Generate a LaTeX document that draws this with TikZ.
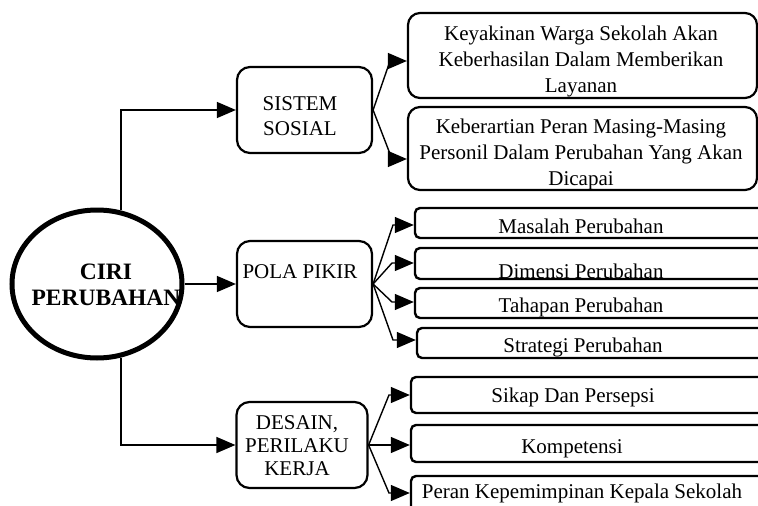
\documentclass[tikz,border=0pt]{standalone}
\usepackage{fontspec}
\setmainfont{Liberation Serif}
\usetikzlibrary{shapes.geometric,arrows.meta}
\tikzset{
  bigbox/.style={draw,line width=2.2pt,rounded corners=13pt,inner sep=0pt},
  thinbox/.style={draw,line width=2.4pt,rounded corners=5pt,inner sep=0pt},
  arr/.style={line width=1.4pt,-{Triangle[length=19pt,width=16pt]}},
  lbl/.style={inner sep=0pt,align=center,font=\fontsize{21}{25}\selectfont},
  bl/.style={inner sep=0pt,anchor=base,font=\fontsize{21}{25}\selectfont}
}
\begin{document}
\begin{tikzpicture}[x=1pt,y=-1pt]
\useasboundingbox (0,0) rectangle (758,506);
\clip (0,0) rectangle (758,506);
% central ellipse
\node[ellipse,draw,line width=5pt,minimum width=170pt,minimum height=148pt,inner sep=0pt] (ciri) at (97,284) {};
\node[inner sep=0pt,align=center,font=\fontsize{23.5}{26}\selectfont\bfseries] (cirit) at (106,285) {CIRI\\PERUBAHAN};
% second level
\node[bigbox,minimum width=135pt,minimum height=86pt] (sis) at (304.5,110) {};
\node[lbl] (sist) at (300,116) {SISTEM\\SOSIAL};
\node[bigbox,minimum width=135pt,minimum height=86pt] (pola) at (304.5,284) {};
\node[lbl] (polat) at (300,272) {POLA PIKIR};
\node[bigbox,minimum width=131pt,minimum height=86pt] (des) at (302,445) {};
\node[lbl,font=\fontsize{21}{23}\selectfont] (dest) at (297,446) {DESAIN,\\PERILAKU\\KERJA};
% top right boxes
\node[bigbox,rounded corners=12pt,minimum width=349pt,minimum height=85pt] (k1) at (582.5,55.5) {};
\node[lbl,font=\fontsize{21}{26}\selectfont] (k1t) at (581,61) {Keyakinan Warga Sekolah Akan\\Keberhasilan Dalam Memberikan\\Layanan};
\node[bigbox,rounded corners=12pt,minimum width=349pt,minimum height=83pt] (k2) at (582.5,148.5) {};
\node[lbl,font=\fontsize{21}{26}\selectfont] (k2t) at (581,154) {Keberartian Peran Masing-Masing\\Personil Dalam Perubahan Yang Akan\\Dicapai};
% pola pikir boxes
\node[thinbox,minimum width=385pt,minimum height=30pt] (m1) at (607.5,223) {};
\node[bl] (m1t) at (581,233) {Masalah Perubahan};
\node[thinbox,minimum width=385pt,minimum height=31pt] (m2) at (607.5,263.5) {};
\node[bl] (m2t) at (581,278) {Dimensi Perubahan};
\node[thinbox,minimum width=385pt,minimum height=30pt] (m3) at (607.5,303) {};
\node[bl] (m3t) at (581,312) {Tahapan Perubahan};
\node[thinbox,minimum width=383pt,minimum height=30pt] (m4) at (608.5,343) {};
\node[bl] (m4t) at (583,352) {Strategi Perubahan};
% desain boxes
\node[thinbox,minimum width=389pt,minimum height=36pt] (s1) at (605.5,395) {};
\node[bl] (s1t) at (573,402) {Sikap Dan Persepsi};
\node[thinbox,minimum width=389pt,minimum height=37pt] (s2) at (605.5,443.5) {};
\node[bl] (s2t) at (572,453) {Kompetensi};
\node[thinbox,minimum width=389pt,minimum height=60pt] (s3) at (605.5,506) {};
\node[bl] (s3t) at (582,498) {Peran Kepemimpinan Kepala Sekolah};
% connectors from ellipse
\draw[arr] (ciri.72) |- (sis.west);
\draw[arr] (ciri.east) -- (pola.west);
\draw[arr] (ciri.-72) |- (des.west);
% sistem sosial fan
\coordinate (a1) at (390,61);
\coordinate (a2) at (392,159);
\draw[arr] (sis.east) -- (a1) -- (a1 -| k1.west);
\draw[arr] (sis.east) -- (a2) -- (a2 -| k2.west);
% pola pikir fan
\coordinate (b1) at (393,225);
\coordinate (b2) at (392,263);
\coordinate (b3) at (392,302);
\coordinate (b4) at (393,340);
\draw[arr] (pola.east) -- (b1) -- (b1 -| m1.west);
\draw[arr] (pola.east) -- (b2) -- (b2 -| m2.west);
\draw[arr] (pola.east) -- (b3) -- (b3 -| m3.west);
\draw[arr] (pola.east) -- (b4) -- (b4 -| m4.west);
% desain fan
\coordinate (c1) at (389,395);
\coordinate (c3) at (389,493);
\draw[arr] (des.east) -- (c1) -- (c1 -| s1.west);
\draw[arr] (des.east) -- (des.east -| s2.west);
\draw[arr] (des.east) -- (c3) -- (c3 -| s3.west);
\end{tikzpicture}
\end{document}
